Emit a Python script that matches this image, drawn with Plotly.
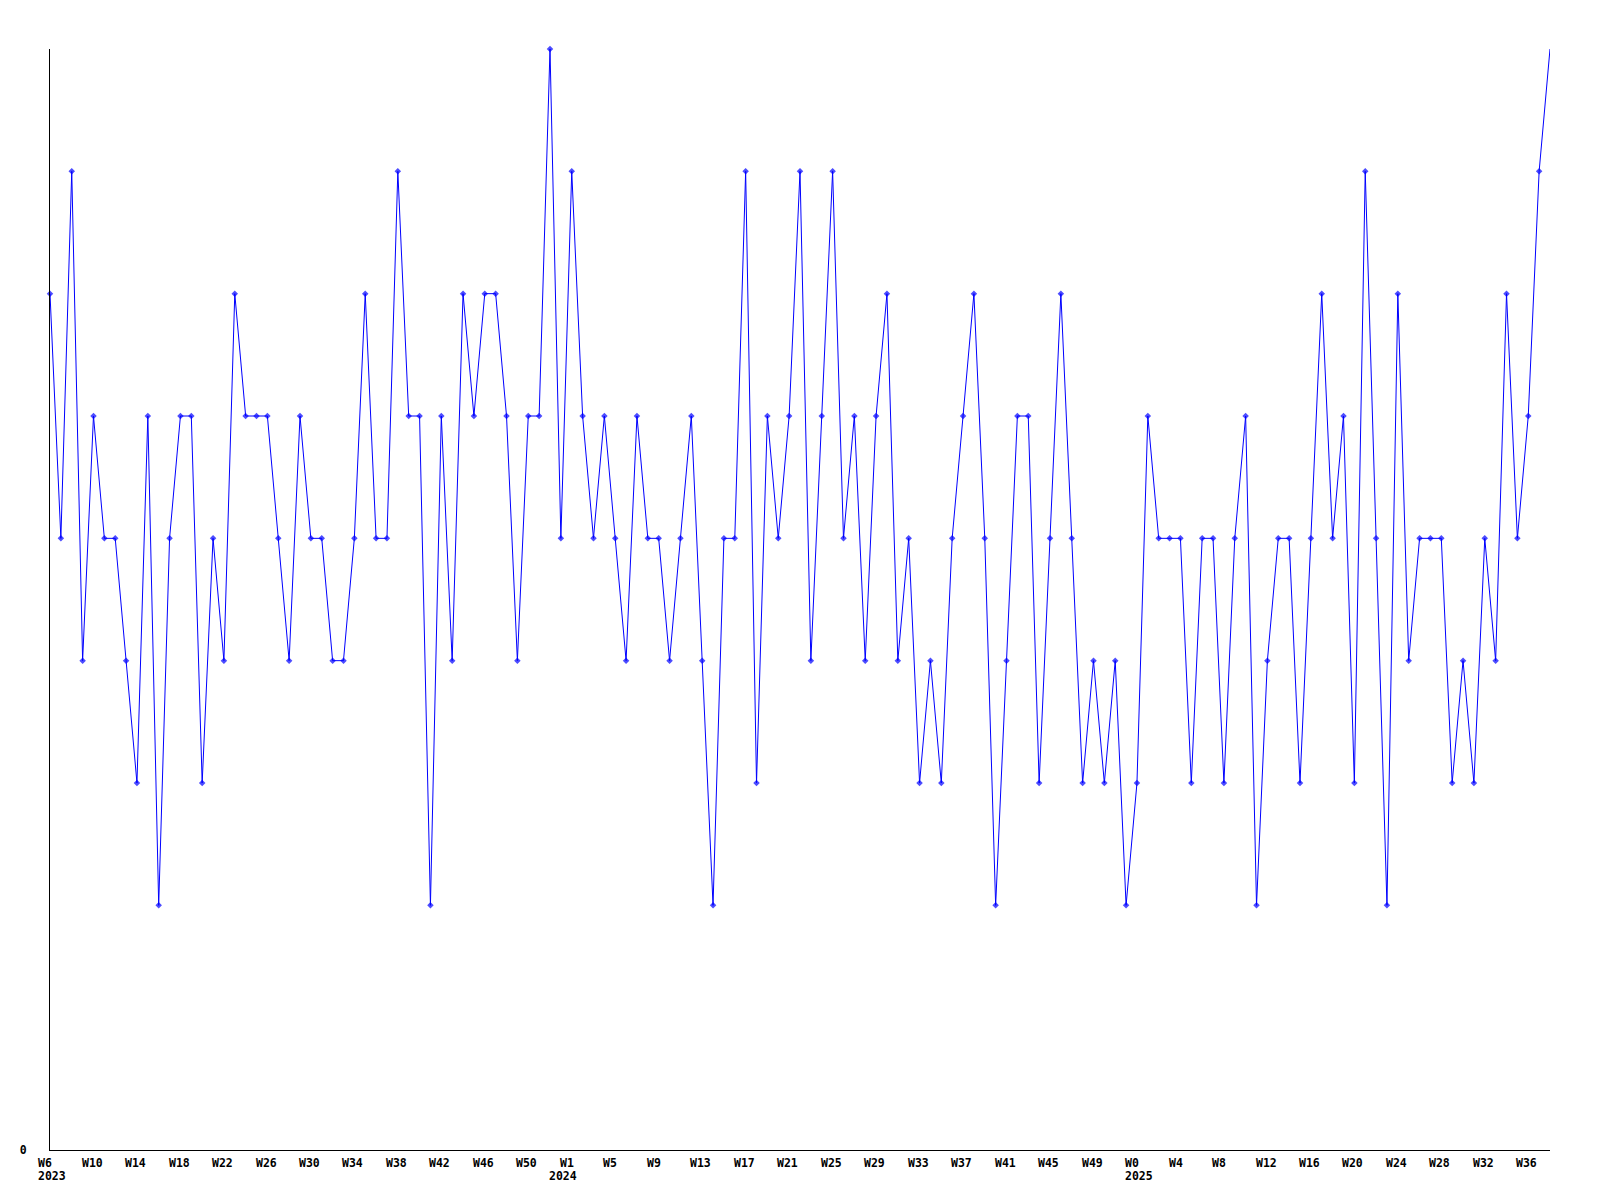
import plotly.graph_objects as go

# ---------------------------------------------------------------------------
# Data — one point per week, W7 2023 .. W38 2025
# ---------------------------------------------------------------------------

VALUES = [
    7, 5, 8, 4, 6, 5, 5, 4, 3, 6, 2, 5, 6, 6, 3, 5, 4, 7, 6, 6,
    6, 5, 4, 6, 5, 5, 4, 4, 5, 7, 5, 5, 8, 6, 6, 2, 6, 4, 7, 6,
    7, 7, 6, 4, 6, 6, 9, 5, 8, 6, 5, 6, 5, 4, 6, 5, 5, 4, 5, 6,
    4, 2, 5, 5, 8, 3, 6, 5, 6, 8, 4, 6, 8, 5, 6, 4, 6, 7, 4, 5,
    3, 4, 3, 5, 6, 7, 5, 2, 4, 6, 6, 3, 5, 7, 5, 3, 4, 3, 4, 2,
    3, 6, 5, 5, 5, 3, 5, 5, 3, 5, 6, 2, 4, 5, 5, 3, 5, 7, 5, 6,
    3, 8, 5, 2, 7, 4, 5, 5, 5, 3, 4, 3, 5, 4, 7, 5, 6, 8, 9,
]

WEEK_LABELS = [
    "W6", "W10", "W14", "W18", "W22", "W26", "W30", "W34", "W38", "W42", "W46", "W50",
    "W1", "W5", "W9", "W13", "W17", "W21", "W25", "W29", "W33", "W37", "W41", "W45", "W49",
    "W0", "W4", "W8", "W12", "W16", "W20", "W24", "W28", "W32", "W36",
]

YEAR_LABELS = ["2023", "2024", "2025"]
YEAR_INDEX = [-1, 46, 99]   # week slot where each year label starts

LINE_COLOR = "#0000ff"
FONT = dict(family="DejaVu Sans Mono", size=11.5, color="black", weight="bold")

x = list(range(len(VALUES)))
last = len(VALUES) - 1
tick_pos = [-1 + 4 * k for k in range(len(WEEK_LABELS))]

fig = go.Figure()

fig.add_trace(go.Scatter(
    x=x,
    y=VALUES,
    mode="lines+markers",
    line=dict(color=LINE_COLOR, width=1),
    marker=dict(
        symbol="diamond",
        size=[5] * last + [0],
        color=LINE_COLOR,
        line=dict(width=0),
    ),
    cliponaxis=False,
    showlegend=False,
    hovertemplate="%{y}<extra></extra>",
))

# week / year labels, left-aligned at their tick like the original renderer
# (paper coords so the first one, left of the axis, is still drawn)
annotations = []
for pos, label in zip(tick_pos, WEEK_LABELS):
    annotations.append(dict(
        x=pos / last, xref="paper", y=0, yref="paper",
        xanchor="left", yanchor="top",
        xshift=-3, yshift=-4,
        text=label, showarrow=False, font=FONT,
    ))
for pos, label in zip(YEAR_INDEX, YEAR_LABELS):
    annotations.append(dict(
        x=pos / last, xref="paper", y=0, yref="paper",
        xanchor="left", yanchor="top",
        xshift=-3, yshift=-17,
        text=label, showarrow=False, font=FONT,
    ))

fig.update_layout(
    width=1592,
    height=1192,
    margin=dict(l=42, r=50, t=41, b=50),
    plot_bgcolor="white",
    paper_bgcolor="white",
    xaxis=dict(
        range=[0, last],
        showgrid=False,
        zeroline=False,
        showline=True,
        linecolor="black",
        linewidth=1,
        ticks="",
        showticklabels=False,
    ),
    yaxis=dict(
        range=[0, 9],
        showgrid=False,
        zeroline=False,
        showline=True,
        linecolor="black",
        linewidth=1,
        ticks="",
        tickvals=[0],
        ticktext=["0"],
        tickfont=FONT,
        ticklabelstandoff=20,
    ),
    annotations=annotations,
)

fig.write_html("out.html")
